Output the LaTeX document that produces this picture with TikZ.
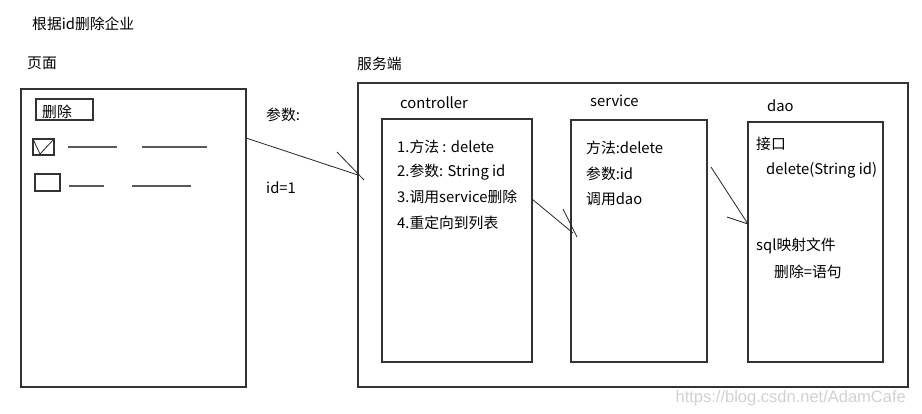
\documentclass[tikz,border=0pt]{standalone}
\usepackage{fontspec}
\setmainfont{Noto Sans CJK SC}
\newfontfamily\markfont{Liberation Sans}
\usetikzlibrary{positioning}

\begin{document}
\begin{tikzpicture}[x=1pt,y=-1pt,
  box/.style={draw=black!80,line width=1.1pt,anchor=north west,inner sep=0pt,outer sep=0pt},
  txt/.style={anchor=west,inner sep=0pt,font=\fontsize{14.8}{17}\selectfont},
  link/.style={draw=black!85,line width=0.8pt},
  blank/.style={draw=black!65,line width=1.4pt}]
 \useasboundingbox (0,0) rectangle (922,413);

 % page side
 \node[txt] (title) at (32,24) {根据id删除企业};
 \node[txt] (pagelbl) at (27,63) {页面};
 \node[box,minimum width=225pt,minimum height=298pt] (page) at (21,89) {};
 \node[box,minimum width=57pt,minimum height=21pt] (delbtn) at (36,99) {};
 \node[txt] (deltxt) at (42,112) {删除};
 \node[box,minimum width=21pt,minimum height=16pt] (chk1) at (33,139) {};
 \draw[link] (chk1.north west) -- (40,154) -- (chk1.north east);
 \node[box,minimum width=25pt,minimum height=17pt] (chk2) at (35,174) {};
 \draw[blank] (68,147) -- (117,147) (142,147) -- (207,147);
 \draw[blank] (69,186) -- (104,186) (132,186) -- (191,186);
 \node[txt] (param) at (266,115) {参数:};
 \node[txt] (idval) at (266,188) {id=1};

 % server side
 \node[txt] (srvlbl) at (357,64) {服务端};
 \node[box,minimum width=550pt,minimum height=304pt] (server) at (358,83) {};

 \node[txt] (ctrllbl) at (400,103) {controller};
 \node[box,minimum width=150pt,minimum height=243pt] (ctrl) at (382,119) {};
 \node[txt] (c1) at (397,147) {1.方法 : delete};
 \node[txt] (c2) at (397,172) {2.参数: String id};
 \node[txt] (c3) at (397,197) {3.调用service删除};
 \node[txt] (c4) at (397,223) {4.重定向到列表};

 \node[txt] (srvclbl) at (590,101) {service};
 \node[box,minimum width=136pt,minimum height=242pt] (svc) at (571,120) {};
 \node[txt] (s1) at (586,148) {方法:delete};
 \node[txt] (s2) at (586,174) {参数:id};
 \node[txt] (s3) at (586,199) {调用dao};

 \node[txt] (daolbl) at (767,106) {dao};
 \node[box,minimum width=135pt,minimum height=240pt] (dao) at (748,122) {};
 \node[txt] (d1) at (756,144) {接口};
 \node[txt] (d2) at (766,170) {delete(String id)};
 \node[txt] (d3) at (756,246) {sql映射文件};
 \node[txt] (d4) at (774,272) {删除=语句};

 % hand drawn arrows
 \coordinate (a1s) at (246,138);
 \coordinate (a1e) at (358,175);
 \coordinate (a1t) at (337,152);
 \coordinate (a1u) at (364,180);
 \draw[link] (a1s) -- (a1e) (a1t) -- (a1u);
 \coordinate (a2s) at (532,199);
 \coordinate (a2e) at (573,233);
 \coordinate (a2t) at (563,209);
 \coordinate (a2u) at (577,237);
 \draw[link] (a2s) -- (a2e) (a2t) -- (a2u);
 \coordinate (a3s) at (711,167);
 \coordinate (a3e) at (748,224);
 \coordinate (a3t) at (727,217);
 \draw[link] (a3s) -- (a3e) -- (a3t);

 \node[anchor=east,inner sep=0pt,text=black!18,font=\markfont\fontsize{16.5}{18}\selectfont] (mark) at (906,398) {https://blog.csdn.net/AdamCafe};
\end{tikzpicture}
\end{document}
